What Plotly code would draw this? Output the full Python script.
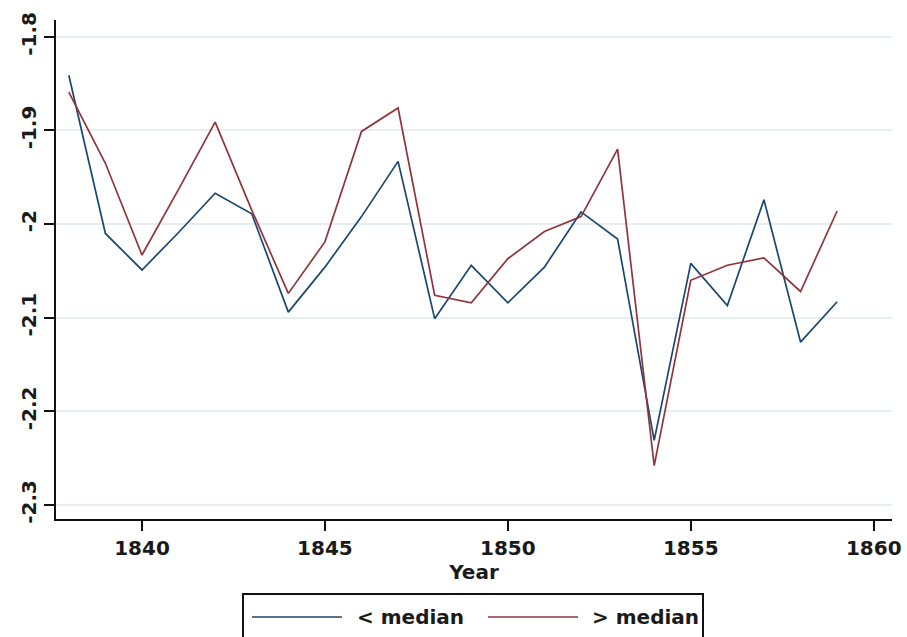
import plotly.graph_objects as go

years = list(range(1838, 1860))
below_median = [-1.841, -2.010, -2.049, -2.009, -1.967, -1.989, -2.094, -2.046, -1.992, -1.933,
                -2.101, -2.044, -2.084, -2.046, -1.987, -2.016, -2.231, -2.042, -2.087, -1.974,
                -2.126, -2.083]
above_median = [-1.859, -1.935, -2.033, -1.963, -1.891, -1.985, -2.074, -2.019, -1.901, -1.876,
                -2.076, -2.084, -2.037, -2.008, -1.992, -1.920, -2.258, -2.060, -2.044, -2.036,
                -2.072, -1.986]
x_ticks = [1840, 1845, 1850, 1855, 1860]
y_ticks = [-2.3, -2.2, -2.1, -2.0, -1.9, -1.8]
y_labels = ["-2.3", "-2.2", "-2.1", "-2", "-1.9", "-1.8"]
series_names = ["< median", "> median"]

BLUE = "#1a476f"
RED = "#90353b"
FONT = "DejaVu Sans"
FS = 20

fig = go.Figure()
fig.add_trace(go.Scatter(x=years, y=below_median, mode="lines", name=series_names[0],
                         line=dict(color=BLUE, width=1.7), showlegend=False))
fig.add_trace(go.Scatter(x=years, y=above_median, mode="lines", name=series_names[1],
                         line=dict(color=RED, width=1.7), showlegend=False))

fig.update_layout(
    width=907, height=637,
    margin=dict(l=56, r=15, t=20, b=118),
    paper_bgcolor="white", plot_bgcolor="white",
    font=dict(family=FONT, size=FS, color="#1a1a1a", weight="bold"),
    xaxis=dict(range=[1837.65, 1860.5], tickvals=x_ticks, ticks="outside", ticklen=10,
               tickwidth=2, tickcolor="#111", showline=True, linecolor="#111", linewidth=2,
               showgrid=False, zeroline=False, automargin=False,
               title=dict(text="Year", font=dict(size=FS), standoff=2)),
    yaxis=dict(range=[-2.315, -1.782], tickvals=y_ticks, ticktext=y_labels, tickangle=-90,
               ticks="outside", ticklen=10, tickwidth=2, tickcolor="#111",
               showline=True, linecolor="#111", linewidth=2, automargin=False,
               showgrid=True, gridcolor="#e6eef2", gridwidth=1.5, zeroline=False),
)

# Legend box (drawn manually, Stata style)
fig.add_shape(type="rect", xref="paper", yref="paper",
              x0=(243-56)/836, x1=(703-56)/836, y0=(519-660)/499, y1=(519-594)/499,
              line=dict(color="#111", width=2), fillcolor="white")
fig.add_shape(type="line", xref="paper", yref="paper",
              x0=(252-56)/836, x1=(342-56)/836, y0=(519-617)/499, y1=(519-617)/499,
              line=dict(color=BLUE, width=1.7))
fig.add_shape(type="line", xref="paper", yref="paper",
              x0=(488-56)/836, x1=(578-56)/836, y0=(519-617)/499, y1=(519-617)/499,
              line=dict(color=RED, width=1.7))
fig.add_annotation(text=series_names[0], xref="paper", yref="paper",
                   x=(355-56)/836, y=(519-617)/499, xanchor="left", yanchor="middle",
                   showarrow=False, font=dict(size=FS))
fig.add_annotation(text=series_names[1], xref="paper", yref="paper",
                   x=(590-56)/836, y=(519-617)/499, xanchor="left", yanchor="middle",
                   showarrow=False, font=dict(size=FS))

fig.write_html("out.html", config={"displayModeBar": False},
               post_script="document.body.style.margin='0';")
